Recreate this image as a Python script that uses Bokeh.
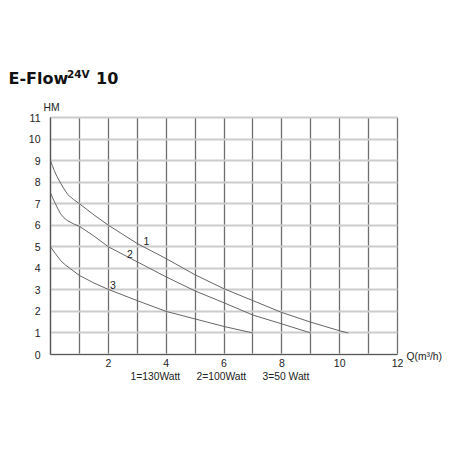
from bokeh.plotting import figure
from bokeh.models import Range1d, FixedTicker, Grid
from bokeh.core.properties import value
from bokeh.embed import file_html
from bokeh.resources import INLINE

# ---- data ----
q1 = [0, 0.06, 0.13, 0.22, 0.33, 0.45, 0.6, 0.8, 1, 1.5, 2, 3, 4, 5, 6, 7, 8, 9, 10, 10.3]
h1 = [9, 8.78, 8.54, 8.27, 8.0, 7.72, 7.42, 7.19, 7.0, 6.48, 6.0, 5.15, 4.45, 3.7, 3.05, 2.5, 1.95, 1.5, 1.1, 1.0]
q2 = [0, 0.08, 0.17, 0.26, 0.35, 0.46, 0.58, 0.8, 1, 1.5, 2, 3, 4, 5, 6, 7, 8, 9]
h2 = [7.5, 7.25, 7.0, 6.75, 6.53, 6.35, 6.22, 6.06, 5.95, 5.5, 5.0, 4.3, 3.6, 2.95, 2.4, 1.83, 1.42, 1.0]
q3 = [0, 0.17, 0.35, 0.52, 0.69, 1, 1.5, 2, 3, 4, 5, 6, 7]
h3 = [5.0, 4.68, 4.36, 4.15, 3.98, 3.67, 3.32, 3.02, 2.5, 2.0, 1.65, 1.3, 1.0]
curve_names = ["1", "2", "3"]
curve_label_x = [3.32, 2.75, 2.16]
curve_label_y = [5.27, 4.66, 3.22]
x_ticks = [2, 4, 6, 8, 10, 12]
x_grid = list(range(0, 13))
y_ticks = list(range(0, 12))
legend_items = ["1=130Watt", "2=100Watt", "3=50 Watt"]
title_main = "E-Flow"
title_sup = "24V"
title_num = "10"
y_title = "HM"
x_title = "Q(m\u00b3/h)"

# ---- geometry (pixels) ----
W, H = 444, 440
X0PX, X1PX = 50, 397      # pixel columns of Q=0 and Q=12
Y0PX, Y1PX = 354, 117     # pixel rows of H=0 and H=11
XMAX, YMAX = 12, 11
sx = (X1PX - X0PX) / XMAX
sy = (Y0PX - Y1PX) / YMAX

def dx(px):
    return (px - X0PX) / sx

def dy(py):
    return (Y0PX - py) / sy

p = figure(width=W, height=H, output_backend="svg", toolbar_location=None,
           x_range=Range1d(dx(0), dx(W)), y_range=Range1d(dy(H), dy(0)),
           min_border_left=0, min_border_right=0, min_border_top=0, min_border_bottom=0)
p.background_fill_color = "white"
p.border_fill_color = "white"
p.outline_line_color = None

FONT = "Liberation Sans"
INK = "#222222"
p.xaxis.ticker = FixedTicker(ticks=x_ticks)
p.yaxis.ticker = FixedTicker(ticks=y_ticks)
p.xaxis.fixed_location = 0
p.yaxis.fixed_location = 0
p.xaxis.bounds = (0, XMAX)
p.yaxis.bounds = (0, YMAX)
for ax in (p.xaxis[0], p.yaxis[0]):
    ax.axis_line_color = "#555555"
    ax.axis_line_width = 1.2
    ax.major_tick_line_color = None
    ax.minor_tick_line_color = None
    ax.major_label_text_font = FONT
    ax.major_label_text_font_size = "10.5px"
    ax.major_label_text_color = INK
p.xaxis.major_label_standoff = -2
p.yaxis.major_label_standoff = 4

p.xgrid.ticker = FixedTicker(ticks=x_grid)
p.xgrid.grid_line_color = "#6e6e6e"
p.xgrid.grid_line_width = 1.3
p.ygrid.ticker = FixedTicker(ticks=y_ticks)
p.ygrid.grid_line_color = "#cccccc"
p.ygrid.grid_line_width = 1.8

if "cross_bounds" in Grid.properties():
    p.xgrid.cross_bounds = (0, YMAX)
    p.ygrid.cross_bounds = (0, XMAX)
    p.xgrid.bounds = (0, XMAX)
    p.ygrid.bounds = (0, YMAX)
else:
    p.xgrid.visible = False
    p.ygrid.visible = False
    p.segment(x0=[0] * len(y_ticks), x1=[XMAX] * len(y_ticks), y0=y_ticks, y1=y_ticks,
              line_color="#cccccc", line_width=1.8, level="underlay")
    p.segment(x0=x_grid, x1=x_grid, y0=[0] * len(x_grid), y1=[YMAX] * len(x_grid),
              line_color="#6e6e6e", line_width=1.3, level="underlay")

for q, h in ((q1, h1), (q2, h2), (q3, h3)):
    p.line(q, h, line_color="#666666", line_width=1)

p.text(x=curve_label_x, y=curve_label_y, text=curve_names, text_align="center",
       text_baseline="middle", text_font=value(FONT), text_font_size="10.5px", text_color=INK)

# title
TF = value("DejaVu Sans")
p.text(x=[dx(8)], y=[dy(77.8)], text=[title_main], text_font=TF, text_font_style="bold",
       text_font_size="16px", text_color="#111111", text_align="left", text_baseline="middle")
p.text(x=[dx(66.5)], y=[dy(73.7)], text=[title_sup], text_font=TF, text_font_style="bold",
       text_font_size="10.5px", text_color="#111111", text_align="left", text_baseline="middle")
p.text(x=[dx(95.5)], y=[dy(77.8)], text=[title_num], text_font=TF, text_font_style="bold",
       text_font_size="16px", text_color="#111111", text_align="left", text_baseline="middle")

# axis titles
p.text(x=[dx(51)], y=[dy(106.5)], text=[y_title], text_font=value(FONT), text_font_size="10.3px",
       text_color=INK, text_align="center", text_baseline="middle")
p.text(x=[dx(406)], y=[dy(356)], text=[x_title], text_font=value(FONT), text_font_size="10.3px",
       text_color=INK, text_align="left", text_baseline="middle")

# legend text
p.text(x=[dx(130), dx(196), dx(262)], y=[dy(376)] * 3, text=legend_items, text_font=value(FONT),
       text_font_size="10.3px", text_color=INK, text_align="left", text_baseline="middle")

open("out.html", "w").write(file_html(p, INLINE))
